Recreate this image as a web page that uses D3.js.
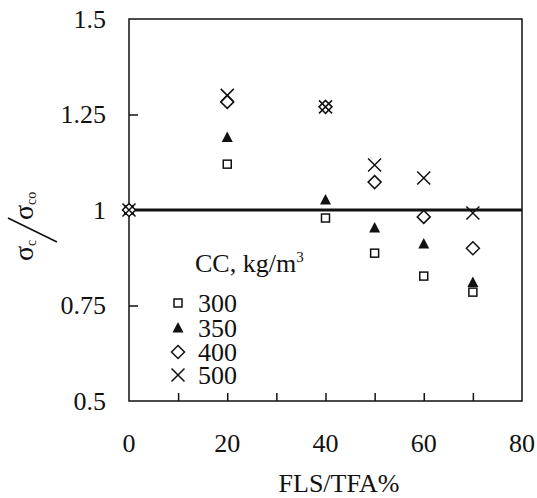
<!DOCTYPE html>
<html><head><meta charset="utf-8">
<script src="https://cdn.jsdelivr.net/npm/d3@7"></script>
<style>
body{margin:0;background:#fff;}
text{font-family:"Liberation Serif","Times New Roman",serif;fill:#111;}
</style></head>
<body><svg id="c" width="537" height="498"></svg>
<script>
const fls = [0, 20, 40, 50, 60, 70];
const cc300 = [1.0, 1.12, 0.979, 0.887, 0.827, 0.785];
const cc350 = [1.0, 1.19, 1.026, 0.953, 0.911, 0.81];
const cc400 = [1.0, 1.283, 1.27, 1.073, 0.982, 0.90];
const cc500 = [1.0, 1.30, 1.27, 1.118, 1.084, 0.992];
const seriesNames = ["300", "350", "400", "500"];
const xTicks = [0, 20, 40, 60, 80];
const yTicks = [0.5, 0.75, 1, 1.25, 1.5];
const yTickLabels = ["0.5", "0.75", "1", "1.25", "1.5"];

const svg = d3.select("#c");
const x = d3.scaleLinear().domain([0, 80]).range([129, 522]);
const y = d3.scaleLinear().domain([0.5, 1.5]).range([401, 19]);
const FS = 26;

// frame
svg.append("rect").attr("x", x(0)).attr("y", y(1.5)).attr("width", x(80)-x(0)).attr("height", y(0.5)-y(1.5))
  .attr("fill", "none").attr("stroke", "#111").attr("stroke-width", 1.5);

// ticks inside
const xa = d3.axisTop(x).tickValues(d3.range(10, 80, 10)).tickSize(8).tickFormat("");
svg.append("g").attr("transform", `translate(0,${y(0.5)})`).call(xa)
  .call(g => { g.select(".domain").remove(); g.selectAll("line").attr("stroke", "#111").attr("stroke-width", 1.5); });
const ya = d3.axisRight(y).tickValues([0.75, 1.25]).tickSize(9).tickFormat("");
svg.append("g").attr("transform", `translate(${x(0)},0)`).call(ya)
  .call(g => { g.select(".domain").remove(); g.selectAll("line").attr("stroke", "#111").attr("stroke-width", 1.5); });

// tick labels
svg.append("g").selectAll("text").data(xTicks).join("text")
  .attr("x", d => x(d)).attr("y", 452).attr("text-anchor", "middle").attr("font-size", FS).text(d => d);
svg.append("g").selectAll("text").data(yTicks).join("text")
  .attr("x", 106).attr("y", d => y(d)).attr("dy", "0.34em").attr("text-anchor", "end").attr("font-size", FS)
  .text((d, i) => yTickLabels[i]);

// axis title
svg.append("text").attr("x", 339).attr("y", 492).attr("text-anchor", "middle").attr("font-size", FS).text("FLS/TFA%");

// y title sigma_c / sigma_co
const yt = svg.append("g").attr("transform", "rotate(-90)");
const t1 = yt.append("text").attr("x", -261).attr("y", 33).attr("font-size", 28);
t1.append("tspan").text("σ");
t1.append("tspan").attr("font-size", 14).attr("dy", 3).text("c");
yt.append("line").attr("x1", -242).attr("y1", 57).attr("x2", -218).attr("y2", 8)
  .attr("stroke", "#111").attr("stroke-width", 1.6);
const t2 = yt.append("text").attr("x", -220).attr("y", 33).attr("font-size", 28);
t2.append("tspan").text("σ");
t2.append("tspan").attr("font-size", 14).attr("dy", 3).text("co");

// reference line at 1
svg.append("line").attr("x1", x(0)).attr("x2", x(80)).attr("y1", y(1)).attr("y2", y(1))
  .attr("stroke", "#111").attr("stroke-width", 3);

// markers
function drawMarker(g, type) {
  if (type === 0) g.append("rect").attr("x", -4).attr("y", -4).attr("width", 8).attr("height", 8)
      .attr("fill", "#fff").attr("stroke", "#111").attr("stroke-width", 1.5);
  else if (type === 1) g.append("path").attr("d", "M0,-6L5.5,4.5L-5.5,4.5Z").attr("fill", "#111");
  else if (type === 2) g.append("path").attr("d", "M0,-6.5L6.5,0L0,6.5L-6.5,0Z")
      .attr("fill", "#fff").attr("stroke", "#111").attr("stroke-width", 1.5);
  else g.append("path").attr("d", "M-6.5,-6.5L6.5,6.5M-6.5,6.5L6.5,-6.5")
      .attr("fill", "none").attr("stroke", "#111").attr("stroke-width", 1.5);
}
const allSeries = [cc300, cc350, cc400, cc500];
allSeries.forEach((vals, si) => {
  svg.append("g").selectAll("g").data(fls.map((f, i) => [f, vals[i]])).join("g")
    .attr("transform", d => `translate(${x(d[0])},${y(d[1])})`)
    .each(function() { drawMarker(d3.select(this), si); });
});

// legend
const lt = svg.append("text").attr("x", 195).attr("y", 272).attr("font-size", FS);
lt.append("tspan").text("CC, kg/m");
lt.append("tspan").attr("font-size", 15).attr("dy", -10).text("3");
const legY = [303, 328, 352, 375];
seriesNames.forEach((n, i) => {
  const g = svg.append("g").attr("transform", `translate(178,${legY[i]})`);
  drawMarker(g, i);
  svg.append("text").attr("x", 198).attr("y", legY[i]).attr("dy", "0.34em").attr("font-size", FS).text(n);
});
</script></body></html>
